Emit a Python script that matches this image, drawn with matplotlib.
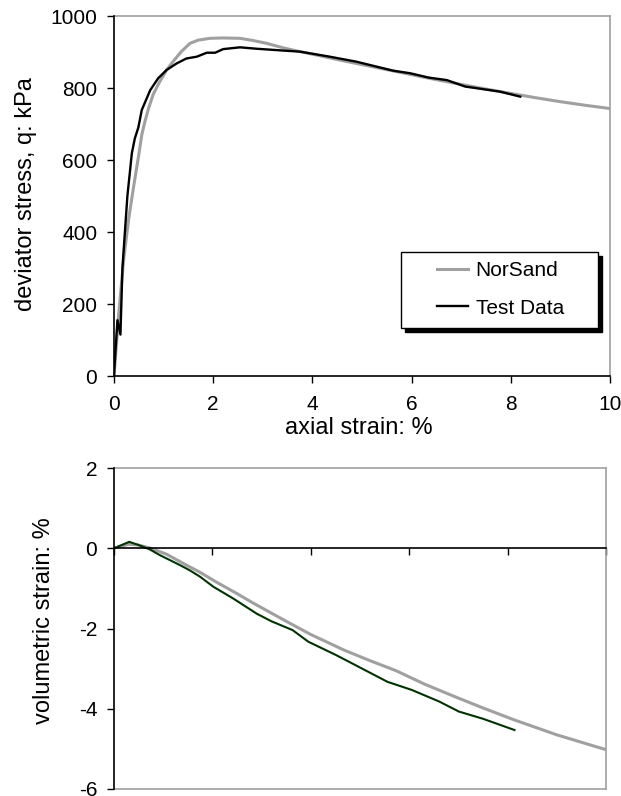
import matplotlib
matplotlib.use("Agg")
import matplotlib.pyplot as plt
from matplotlib.patches import Rectangle
from matplotlib.lines import Line2D

plt.rcParams['font.family'] = ['Liberation Sans', 'DejaVu Sans']
plt.rcParams['axes.unicode_minus'] = False

# --- deviator stress vs axial strain ---
ns_strain_q = [0, 0.05, 0.1, 0.2, 0.3, 0.4, 0.5, 0.56, 0.62, 0.7, 0.79, 0.9, 1.06,
               1.2, 1.35, 1.53, 1.7, 1.94, 2.2, 2.54, 2.8, 3.08, 3.4, 3.75, 4.0,
               4.5, 5.0, 5.5, 6.0, 6.5, 7.0, 7.5, 8.0, 8.5, 9.0, 9.5, 10.0]
ns_q = [0, 90, 180, 330, 440, 530, 615, 670, 705, 745, 782, 812, 850,
        875, 900, 924, 933, 938, 939, 938, 932, 924, 912, 901, 894,
        879, 865, 851, 837, 823, 810, 797, 785, 773, 762, 752, 743]

test_strain_q = [0, 0.03, 0.07, 0.13, 0.17, 0.22, 0.27, 0.36, 0.42, 0.49, 0.56,
                 0.73, 0.89, 1.06, 1.26, 1.46, 1.67, 1.87, 2.04, 2.2, 2.54, 2.88,
                 3.41, 3.75, 4.35, 4.89, 5.63, 5.97, 6.34, 6.71, 7.08, 7.38,
                 7.78, 8.19]
test_q = [0, 70, 155, 115, 300, 400, 500, 619, 660, 690, 739,
          794, 827, 850, 868, 882, 887, 898, 898, 908, 913, 909,
          904, 901, 887, 873, 848, 841, 829, 822, 804, 798,
          790, 776]

# --- volumetric strain vs axial strain ---
ns_strain_v = [0, 0.3, 0.5, 0.75, 1.07, 1.41, 1.75, 2.09, 2.5, 2.82, 3.5, 4.0,
               4.68, 5.2, 5.73, 6.3, 6.93, 7.5, 8.14, 9.0, 10.0]
ns_vol = [0, 0.1, 0.08, 0.0, -0.15, -0.38, -0.6, -0.85, -1.13, -1.36, -1.82, -2.15,
          -2.54, -2.8, -3.05, -3.38, -3.70, -3.98, -4.28, -4.65, -5.02]

test_strain_v = [0, 0.31, 0.5, 0.73, 0.93, 1.34, 1.54, 1.75, 2.02, 2.42, 2.90,
                 3.2, 3.63, 3.95, 4.51, 4.84, 5.2, 5.56, 6.05, 6.61, 7.01, 7.5,
                 8.14]
test_vol = [0, 0.16, 0.08, -0.03, -0.17, -0.42, -0.55, -0.71, -0.96, -1.25, -1.63,
            -1.82, -2.04, -2.33, -2.66, -2.87, -3.1, -3.33, -3.53, -3.82, -4.07, -4.25,
            -4.53]

x_ticks = [0, 2, 4, 6, 8, 10]
q_ticks = [0, 200, 400, 600, 800, 1000]
v_ticks = [-6, -4, -2, 0, 2]

GRAY = '#a0a0a0'
FS = 15       # tick labels and legend
FS_T = 17     # axis titles
W, H = 621, 796

fig = plt.figure(figsize=(W / 100, H / 100), dpi=100)


def px_axes(left, top, right, bottom):
    return fig.add_axes([left / W, 1 - bottom / H, (right - left) / W, (bottom - top) / H])


def frame(ax):
    for s in ('top', 'right'):
        ax.spines[s].set_color(GRAY)
        ax.spines[s].set_linewidth(1.2)
    for s in ('left', 'bottom'):
        ax.spines[s].set_color('black')
        ax.spines[s].set_linewidth(1.2)
        ax.spines[s].set_zorder(3)
    ax.tick_params(direction='out', length=5, width=1, labelsize=FS, color='black')


# Top panel
ax1 = px_axes(114, 16, 610, 376)
ax1.plot(ns_strain_q, ns_q, color=GRAY, lw=2.2, solid_joinstyle='round', zorder=2)
ax1.plot(test_strain_q, test_q, color='black', lw=1.7, solid_joinstyle='round', zorder=2.5)
ax1.set_xlim(0, 10)
ax1.set_ylim(0, 1000)
ax1.set_xticks(x_ticks)
ax1.set_yticks(q_ticks)
frame(ax1)
ax1.tick_params(axis='x', pad=9)
ax1.tick_params(axis='y', pad=7)
ax1.set_xlabel('axial strain: %', fontsize=FS_T)
ax1.xaxis.set_label_coords(0.493, -0.113)
ax1.set_ylabel('deviator stress, q: kPa', fontsize=FS_T)
ax1.yaxis.set_label_coords(-0.156, 0.505)

# Legend box with solid shadow
lx0, ly0, lx1, ly1 = 401, 252, 598, 328
bw, bh = 496, 360
shadow = Rectangle(((lx0 - 114 + 4) / bw, (376 - ly1 - 4) / bh), (lx1 - lx0) / bw,
                   (ly1 - ly0) / bh, transform=ax1.transAxes, facecolor='black',
                   edgecolor='black', lw=1, zorder=4)
box = Rectangle(((lx0 - 114) / bw, (376 - ly1) / bh), (lx1 - lx0) / bw,
                (ly1 - ly0) / bh, transform=ax1.transAxes, facecolor='white',
                edgecolor='black', lw=1, zorder=5)
ax1.add_patch(shadow)
ax1.add_patch(box)
handles = [Line2D([], [], color=GRAY, lw=2.2), Line2D([], [], color='black', lw=1.7)]
leg = ax1.legend(handles, ['NorSand', 'Test Data'], loc='center left',
                 bbox_to_anchor=((437 - 114) / bw, (376 - 289.5) / bh),
                 frameon=False, fontsize=FS, handlelength=1.5, handletextpad=0.35,
                 labelspacing=0.88, borderpad=0, borderaxespad=0)
leg.set_zorder(6)

# Bottom panel
ax2 = px_axes(114, 468, 606, 789)
ax2.plot(ns_strain_v, ns_vol, color=GRAY, lw=2.2, solid_joinstyle='round', zorder=2)
ax2.plot(test_strain_v, test_vol, color='#003300', lw=1.5, solid_joinstyle='round', zorder=2.5)
ax2.set_xlim(0, 10)
ax2.set_ylim(-6, 2)
ax2.set_xticks(x_ticks)
ax2.set_yticks(v_ticks)
frame(ax2)
ax2.spines['bottom'].set_position(('data', 0))
ax2.plot([0, 1], [0, 0], transform=ax2.transAxes, color=GRAY, lw=1.2, clip_on=False, zorder=1)
ax2.tick_params(axis='x', labelbottom=False)
ax2.tick_params(axis='y', pad=7)
ax2.set_ylabel('volumetric strain: %', fontsize=FS_T)
ax2.yaxis.set_label_coords(-0.12, 0.523)

fig.savefig('out.png', dpi=100)
